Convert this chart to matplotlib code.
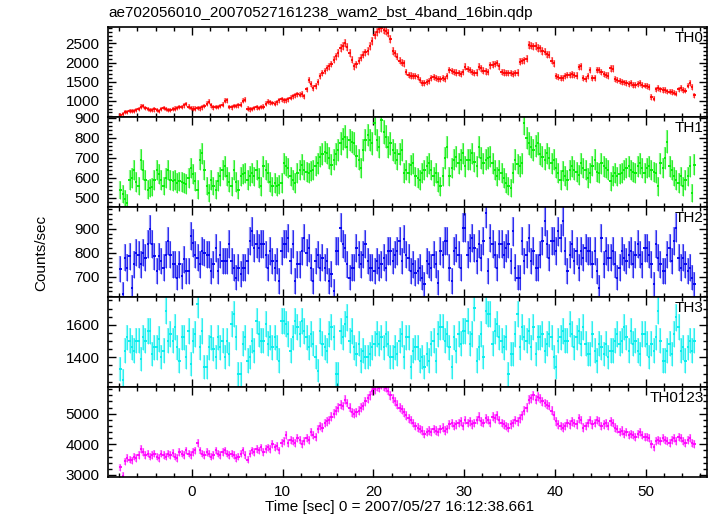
import numpy as np
import matplotlib.pyplot as plt
from matplotlib.ticker import MultipleLocator

plt.rcParams['font.family'] = ['Liberation Sans', 'DejaVu Sans']
plt.rcParams['font.size'] = 11

# light curve, 0.25 s bins starting at t = -7.875 s
t_start = -7.875
bin_size = 0.25

th0 = [640, 650, 700, 720, 730, 745, 740, 755,
       790, 850, 860, 820, 780, 770, 760, 775,
       760, 740, 780, 810, 790, 770, 770, 790,
       800, 820, 840, 835, 880, 915, 850, 820,
       800, 800, 810, 805, 830, 870, 930, 975,
       880, 830, 840, 845, 860, 900, 1000, 1015,
       840, 830, 860, 870, 880, 900, 1000, 1035,
       800, 775, 790, 820, 830, 820, 840, 850,
       930, 975, 960, 945, 930, 960, 1010, 1045,
       1020, 1010, 1040, 1080, 1120, 1150, 1170, 1160,
       1180, 1120, 1300, 1540, 1450, 1330, 1380, 1500,
       1640, 1720, 1780, 1860, 1900, 1960, 2080, 2160,
       2250, 2380, 2430, 2510, 2400, 2250, 2080, 1900,
       1950, 2050, 2120, 2200, 2270, 2300, 2430, 2560,
       2720, 2790, 2880, 2900, 2860, 2830, 2760, 2620,
       2300, 2240, 2150, 2050, 2000, 1980, 1750, 1680,
       1660, 1650, 1640, 1630, 1550, 1470, 1460, 1500,
       1530, 1600, 1630, 1600, 1570, 1560, 1590, 1560,
       1640, 1800, 1780, 1760, 1740, 1720, 1700, 1750,
       1890, 1830, 1810, 1760, 1720, 1740, 1890, 1850,
       1790, 1770, 1760, 1930, 1940, 1960, 1990, 1900,
       1760, 1740, 1720, 1730, 1720, 1710, 1720, 1740,
       2020, 2040, 2060, 2100, 2460, 2440, 2420, 2430,
       2380, 2370, 2300, 2280, 2220, 2200, 2050, 1980,
       1640, 1620, 1590, 1600, 1650, 1680, 1670, 1690,
       1680, 1660, 1880, 1900, 1600, 1580, 1650, 1800,
       1590, 1600, 1800, 1810, 1750, 1700, 1670, 1660,
       1850, 1840, 1560, 1540, 1510, 1500, 1480, 1460,
       1450, 1460, 1420, 1410, 1440, 1460, 1420, 1400,
       1380, 1360, 1100, 1060, 1300, 1330, 1300, 1290,
       1280, 1250, 1240, 1230, 1210, 1190, 1300, 1330,
       1290, 1270, 1400, 1460, 1370, 1150]

th1 = [540, 520, 495, 475, 590, 600, 640, 580,
       560, 690, 640, 590, 541, 550, 555, 591,
       640, 620, 590, 560, 600, 641, 590, 585,
       590, 575, 583, 580, 575, 570, 600, 650,
       620, 583, 541, 690, 723, 641, 560, 525,
       591, 560, 541, 583, 608, 640, 658, 608,
       580, 558, 641, 580, 541, 608, 620, 624,
       591, 610, 624, 608, 641, 600, 558, 658,
       640, 624, 580, 558, 575, 558, 565, 575,
       674, 660, 650, 608, 590, 575, 624, 640,
       666, 641, 630, 624, 633, 641, 660, 674,
       707, 720, 732, 723, 700, 666, 690, 720,
       740, 773, 795, 806, 757, 790, 780, 773,
       710, 690, 650, 740, 790, 815, 790, 773,
       873, 790, 757, 889, 830, 806, 757, 773,
       740, 723, 690, 720, 740, 624, 640, 624,
       665, 674, 608, 600, 591, 624, 640, 658,
       674, 640, 608, 624, 580, 558, 608, 700,
       757, 608, 650, 690, 707, 674, 690, 723,
       658, 690, 690, 723, 680, 658, 757, 700,
       674, 690, 700, 707, 674, 640, 608, 641,
       624, 600, 575, 560, 550, 624, 690, 670,
       658, 674, 873, 800, 773, 757, 740, 760,
       773, 720, 707, 690, 723, 700, 674, 690,
       650, 624, 591, 633, 610, 591, 640, 658,
       641, 630, 616, 674, 650, 641, 600, 624,
       660, 690, 630, 624, 674, 658, 650, 641,
       583, 610, 624, 608, 620, 624, 641, 650,
       658, 641, 630, 624, 658, 674, 650, 624,
       650, 658, 641, 630, 624, 558, 674, 650,
       700, 782, 658, 640, 608, 590, 575, 608,
       558, 590, 608, 658, 525, 666]

th2 = [732, 628, 780, 739, 786, 656, 752, 800,
       793, 752, 800, 780, 835, 897, 835, 786,
       724, 786, 766, 739, 793, 849, 793, 752,
       752, 697, 752, 704, 773, 724, 724, 869,
       842, 793, 780, 752, 807, 800, 793, 793,
       724, 752, 821, 724, 793, 766, 766, 766,
       835, 766, 739, 697, 739, 711, 739, 739,
       766, 849, 890, 821, 835, 821, 835, 835,
       793, 739, 807, 766, 739, 766, 683, 807,
       835, 835, 862, 766, 835, 683, 752, 752,
       807, 862, 800, 821, 739, 683, 766, 793,
       739, 780, 739, 766, 683, 711, 642, 807,
       807, 904, 835, 821, 752, 697, 739, 739,
       821, 793, 752, 793, 835, 766, 739, 739,
       724, 766, 739, 752, 780, 739, 807, 807,
       766, 793, 807, 849, 766, 856, 793, 780,
       724, 752, 718, 724, 739, 697, 669, 766,
       752, 739, 793, 752, 676, 807, 793, 849,
       849, 739, 683, 807, 821, 793, 739, 904,
       904, 793, 821, 862, 821, 766, 835, 780,
       849, 966, 724, 862, 835, 793, 739, 835,
       835, 793, 821, 835, 766, 890, 739, 697,
       697, 849, 766, 793, 862, 766, 807, 739,
       739, 793, 849, 931, 835, 780, 849, 849,
       807, 890, 862, 931, 807, 724, 793, 835,
       766, 807, 739, 807, 780, 821, 807, 807,
       752, 807, 724, 656, 862, 752, 807, 780,
       780, 807, 752, 697, 739, 807, 780, 766,
       793, 807, 752, 793, 835, 793, 752, 821,
       821, 793, 752, 669, 835, 780, 752, 724,
       724, 793, 821, 766, 849, 904, 780, 739,
       780, 752, 724, 739, 697, 669]

th3 = [1329, 1257, 1441, 1522, 1502, 1461, 1441, 1502,
       1502, 1390, 1522, 1502, 1563, 1563, 1420, 1461,
       1461, 1512, 1400, 1441, 1686, 1502, 1543, 1502,
       1584, 1461, 1380, 1522, 1522, 1400, 1563, 1359,
       1502, 1543, 1726, 1461, 1563, 1339, 1339, 1461,
       1522, 1451, 1400, 1522, 1461, 1502, 1400, 1502,
       1420, 1604, 1665, 1522, 1298, 1298, 1482, 1522,
       1380, 1400, 1502, 1441, 1624, 1543, 1502, 1502,
       1604, 1482, 1522, 1461, 1522, 1461, 1380, 1624,
       1624, 1604, 1543, 1441, 1522, 1624, 1584, 1543,
       1624, 1563, 1522, 1461, 1543, 1482, 1400, 1318,
       1563, 1482, 1461, 1441, 1543, 1584, 1522, 1298,
       1298, 1563, 1522, 1604, 1645, 1502, 1563, 1461,
       1420, 1482, 1380, 1441, 1400, 1400, 1420, 1461,
       1482, 1543, 1482, 1522, 1461, 1543, 1482, 1400,
       1400, 1461, 1420, 1502, 1543, 1400, 1522, 1522,
       1339, 1441, 1461, 1461, 1380, 1400, 1339, 1420,
       1380, 1482, 1502, 1380, 1543, 1584, 1584, 1502,
       1543, 1461, 1339, 1522, 1441, 1543, 1482, 1563,
       1563, 1624, 1482, 1543, 1706, 1380, 1461, 1543,
       1400, 1686, 1665, 1665, 1482, 1563, 1604, 1522,
       1502, 1461, 1522, 1298, 1420, 1420, 1543, 1665,
       1461, 1584, 1522, 1502, 1563, 1461, 1584, 1420,
       1522, 1522, 1543, 1441, 1482, 1543, 1522, 1400,
       1339, 1502, 1522, 1563, 1502, 1502, 1604, 1543,
       1461, 1522, 1563, 1482, 1584, 1482, 1420, 1420,
       1543, 1441, 1380, 1482, 1461, 1420, 1482, 1400,
       1441, 1441, 1502, 1543, 1482, 1502, 1584, 1522,
       1441, 1563, 1482, 1502, 1441, 1420, 1543, 1543,
       1482, 1400, 1482, 1441, 1522, 1686, 1502, 1380,
       1380, 1441, 1482, 1420, 1543, 1645, 1584, 1441,
       1461, 1380, 1461, 1502, 1441, 1502]

th0123 = [3250, 2980, 3450, 3550, 3500, 3480, 3600, 3550,
          3650, 3850, 3750, 3650, 3700, 3600, 3650, 3700,
          3600, 3550, 3700, 3650, 3600, 3700, 3650, 3720,
          3600, 3550, 3750, 3700, 3650, 3800, 3700, 3650,
          3750, 3800, 4050, 3800, 3700, 3650, 3750, 3700,
          3600, 3650, 3800, 3700, 3650, 3750, 3800, 3700,
          3650, 3700, 3650, 3550, 3600, 3700, 3800, 3650,
          3500, 3700, 3800, 3750, 3850, 3800, 3900, 3750,
          3850, 3900, 3850, 4000, 3900, 3950, 3800, 4050,
          4100, 4300, 4050, 4150, 4100, 4050, 4200, 4150,
          4000, 4100, 4200, 4150, 4400, 4300, 4250, 4500,
          4600, 4550, 4700, 4750, 4800, 4900, 5000, 5100,
          5200, 5300, 5250, 5450, 5350, 5200, 5050, 5000,
          5050, 5100, 5200, 5250, 5400, 5500, 5600, 5750,
          5800, 5900, 5850, 5950, 5900, 5850, 5750, 5600,
          5500, 5400, 5300, 5200, 5150, 5050, 4950, 4850,
          4800, 4700, 4600, 4550, 4500, 4450, 4350, 4400,
          4450, 4400, 4500, 4450, 4400, 4500, 4550, 4450,
          4500, 4650, 4700, 4600, 4650, 4700, 4750, 4600,
          4800, 4700, 4750, 4650, 4700, 4800, 4900, 4750,
          4700, 4850, 4800, 4700, 4900, 4850, 4950, 4800,
          4700, 4650, 4600, 4550, 4650, 4700, 4800, 4750,
          4850, 4950, 5100, 5200, 5450, 5500, 5600, 5450,
          5550, 5500, 5400, 5350, 5300, 5250, 5100, 4950,
          4750, 4650, 4600, 4550, 4600, 4700, 4650, 4750,
          4700, 4650, 4850, 4800, 4550, 4600, 4700, 4800,
          4650, 4700, 4800, 4750, 4600, 4650, 4700, 4600,
          4750, 4700, 4550, 4500, 4400, 4450, 4350, 4400,
          4300, 4350, 4300, 4250, 4350, 4400, 4300, 4250,
          4250, 4200, 4000, 3900, 4100, 4150, 4100, 4200,
          4150, 4100, 4050, 4150, 4200, 4100, 4250, 4200,
          4100, 4050, 4150, 4200, 4050, 4000]

names = ['TH0', 'TH1', 'TH2', 'TH3', 'TH0123']
series = [th0, th1, th2, th3, th0123]
colors = ['#ff0000', '#00ee00', '#0000ee', '#00eeee', '#ff00ff']
ylims = [(579, 2929), (455, 905), (617, 990), (1217, 1771), (2935, 5872)]
ymajor = [500, 100, 100, 200, 1000]
yminor = [100, 20, 20, 50, 200]

fig = plt.figure(figsize=(7.17, 5.16), dpi=100)
gs = fig.add_gridspec(5, 1, left=0.1506, right=0.986, top=0.9477, bottom=0.0756, hspace=0)

for i in range(5):
    ax = fig.add_subplot(gs[i])
    y = np.array(series[i], dtype=float)
    t = t_start + bin_size * np.arange(len(y))
    err = np.sqrt(y / bin_size)
    ax.vlines(t, y - err, y + err, color=colors[i], lw=1.6, alpha=0.45)
    ax.vlines(t, y - err, y + err, color=colors[i], lw=0.6, alpha=0.8)
    ax.hlines(y, t - bin_size / 2, t + bin_size / 2, color=colors[i], lw=1.3)
    ax.set_xlim(-9.25, 56.75)
    ax.set_ylim(ylims[i])
    ax.xaxis.set_major_locator(MultipleLocator(10))
    ax.xaxis.set_minor_locator(MultipleLocator(2))
    ax.yaxis.set_major_locator(MultipleLocator(ymajor[i]))
    ax.yaxis.set_minor_locator(MultipleLocator(yminor[i]))
    ax.tick_params(which='both', direction='in', top=True, right=True, width=1, pad=6)
    ax.tick_params(which='major', length=6)
    ax.tick_params(which='minor', length=3)
    for s in ax.spines.values():
        s.set_linewidth(1.2)
    ax.text(0.995, 0.955, names[i], transform=ax.transAxes, ha='right', va='top')
    if i < 4:
        ax.tick_params(labelbottom=False)

fig.text(0.1506, 0.975, 'ae702056010_20070527161238_wam2_bst_4band_16bin.qdp', ha='left', va='center')
fig.text(0.058, 0.51, 'Counts/sec', rotation=90, ha='center', va='center')
fig.text(0.557, 0.018, 'Time [sec] 0 = 2007/05/27 16:12:38.661', ha='center', va='center')

fig.savefig('out.png', dpi=100)
